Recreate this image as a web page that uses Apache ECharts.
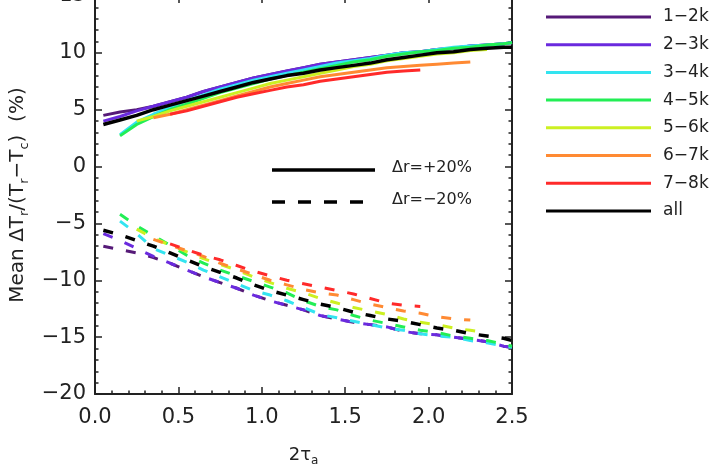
<!DOCTYPE html>
<html>
<head>
    <meta charset="utf-8">
    <title>Mean ΔTr/(Tr−Tc)</title>
    <script src="https://cdn.jsdelivr.net/npm/echarts@6/dist/echarts.min.js"></script>
    <style>
        html, body { margin: 0; padding: 0; background: #fff; }
        #chart1 { width: 709px; height: 474px; }
    </style>
</head>
<body>
<div id="chart1"></div>
<script type="text/javascript">
    // x grid (2 tau_a), shared by every curve; missing points are null
    var xs = [0.05, 0.15, 0.25, 0.35, 0.45, 0.55, 0.65, 0.75, 0.85, 0.95, 1.05, 1.15, 1.25,
              1.35, 1.45, 1.55, 1.65, 1.75, 1.85, 1.95, 2.05, 2.15, 2.25, 2.35, 2.45, 2.5];

    var names = ['1−2kG', '2−3kG', '3−4kG', '4−5kG', '5−6kG', '6−7kG', '7−8kG', 'all'];
    var colors = ['#561a78', '#6a2ade', '#33e4f0', '#22ee55', '#ccf022', '#ff8a33', '#ff2a2a', '#000000'];

    // dr = +20% (solid)
    var plus12 = [4.5, 4.8, 5.0, 5.3, 5.7, 6.1, 6.6, 7.0, 7.4, 7.8, 8.1, 8.4, 8.7, 9.0, 9.2, 9.4, 9.6, 9.8, 10.0, 10.1, 10.3, 10.4, 10.6, 10.7, 10.8, 10.9];
    var plus23 = [4.0, 4.4, 4.9, 5.3, 5.7, 6.1, 6.6, 7.0, 7.4, 7.8, 8.1, 8.4, 8.7, 9.0, 9.2, 9.4, 9.6, 9.8, 10.0, 10.1, 10.3, 10.4, 10.6, 10.7, 10.8, 10.9];
    var plus34 = [null, 2.8, 3.9, 4.6, 5.2, 5.8, 6.3, 6.8, 7.2, 7.6, 7.9, 8.2, 8.5, 8.8, 9.1, 9.3, 9.5, 9.8, 10.0, 10.1, 10.3, 10.5, 10.6, 10.7, 10.8, 10.9];
    var plus45 = [null, 2.7, 3.7, 4.4, 5.0, 5.5, 6.0, 6.5, 6.9, 7.3, 7.7, 8.0, 8.3, 8.6, 8.9, 9.2, 9.4, 9.7, 9.9, 10.1, 10.2, 10.4, 10.5, 10.7, 10.8, 10.9];
    var plus56 = [null, null, 4.0, 4.4, 4.9, 5.3, 5.7, 6.1, 6.5, 6.9, 7.3, 7.6, 7.9, 8.2, 8.5, 8.8, 9.0, 9.3, 9.5, 9.7, 9.9, 10.0, 10.2, 10.3];
    var plus67 = [null, null, null, 4.3, 4.6, 5.0, 5.4, 5.8, 6.2, 6.6, 7.0, 7.3, 7.6, 7.9, 8.1, 8.3, 8.5, 8.7, 8.8, 8.9, 9.0, 9.1, 9.2];
    var plus78 = [null, null, null, null, 4.6, 4.9, 5.3, 5.7, 6.1, 6.4, 6.7, 7.0, 7.2, 7.5, 7.7, 7.9, 8.1, 8.3, 8.4, 8.5];
    var plusAll = [3.7, 4.1, 4.5, 5.0, 5.4, 5.8, 6.2, 6.6, 7.0, 7.4, 7.7, 8.0, 8.2, 8.5, 8.7, 8.9, 9.1, 9.4, 9.6, 9.8, 10.0, 10.1, 10.3, 10.4, 10.5, 10.5];

    // dr = -20% (dashed)
    var minus12 = [-7.0, -7.3, -7.6, -8.0, -8.5, -9.1, -9.7, -10.2, -10.7, -11.3, -11.8, -12.2, -12.6, -13.1, -13.4, -13.7, -13.9, -14.1, -14.5, -14.7, -14.8, -15.0, -15.2, -15.4, -15.8, -15.9];
    var minus23 = [-5.9, -6.5, -7.2, -7.9, -8.5, -9.1, -9.7, -10.2, -10.7, -11.3, -11.8, -12.2, -12.6, -13.1, -13.4, -13.7, -13.9, -14.1, -14.5, -14.7, -14.8, -15.0, -15.2, -15.4, -15.8, -15.9];
    var minus34 = [null, -4.8, -5.9, -7.2, -7.8, -8.4, -9.1, -9.7, -10.3, -10.9, -11.3, -11.8, -12.4, -13.0, -13.3, -13.6, -13.9, -14.2, -14.4, -14.7, -14.9, -15.0, -15.3, -15.5, -15.8, -15.9];
    var minus45 = [null, -4.2, -5.2, -6.1, -6.9, -7.8, -8.5, -9.1, -9.6, -10.1, -10.6, -11.1, -11.8, -12.3, -12.6, -13.1, -13.5, -13.8, -14.1, -14.4, -14.6, -14.9, -15.1, -15.3, -15.6, -15.8];
    var minus56 = [null, null, -5.5, -6.3, -6.9, -7.5, -8.1, -8.6, -9.1, -9.7, -10.2, -10.7, -11.1, -11.6, -12.0, -12.4, -12.7, -13.0, -13.4, -13.7, -13.9, -14.2, -14.4, -14.6];
    var minus67 = [null, null, null, -6.4, -6.9, -7.4, -7.9, -8.5, -9.0, -9.5, -10.0, -10.4, -10.8, -11.1, -11.3, -11.7, -12.1, -12.4, -12.7, -12.9, -13.2, -13.4, -13.5];
    var minus78 = [null, null, null, null, -6.8, -7.3, -7.8, -8.2, -8.7, -9.2, -9.6, -10.0, -10.3, -10.6, -10.9, -11.2, -11.6, -12.0, -12.2, -12.3];
    var minusAll = [-5.6, -6.0, -6.5, -7.0, -7.6, -8.2, -8.8, -9.3, -9.8, -10.4, -10.9, -11.3, -11.7, -12.1, -12.4, -12.8, -13.1, -13.4, -13.6, -13.9, -14.2, -14.4, -14.7, -14.9, -15.1, -15.3];

    var plusSets = [plus12, plus23, plus34, plus45, plus56, plus67, plus78, plusAll];
    var minusSets = [minus12, minus23, minus34, minus45, minus56, minus67, minus78, minusAll];

    var font = 'DejaVu Sans';
    var ink = '#222';

    function pairs(arr) {
        var out = [];
        for (var i = 0; i < arr.length; i++) {
            if (arr[i] != null) out.push([xs[i], arr[i]]);
        }
        return out;
    }

    var series = [];
    for (var k = 0; k < names.length; k++) {
        var w = k == 7 ? 3.5 : 3;
        series.push({
            name: names[k], type: 'line', symbol: 'none', silent: true,
            data: pairs(plusSets[k]),
            lineStyle: {color: colors[k], width: w},
            itemStyle: {color: colors[k]}
        });
        series.push({
            name: names[k], type: 'line', symbol: 'none', silent: true,
            data: pairs(minusSets[k]),
            lineStyle: {color: colors[k], width: w, type: [10, 13]},
            itemStyle: {color: colors[k]}
        });
    }

    function richFor(size) {
        return {
            m: {fontFamily: font, fontSize: size, color: ink, lineHeight: size + 5, verticalAlign: 'middle'},
            s: {fontFamily: font, fontSize: Math.round(size * 0.65), color: ink, lineHeight: 10, verticalAlign: 'bottom'}
        };
    }

    var minus = function (v) { return String(v).replace('-', '−'); };

    // frame axes: same look on all four sides, ticks pointing in
    function frameAxis(extra) {
        var base = {
            type: 'value', splitLine: {show: false},
            axisLine: {onZero: false, lineStyle: {color: ink, width: 2}},
            axisTick: {inside: true, length: 7, lineStyle: {color: ink, width: 1.5}},
            minorTick: {show: true, splitNumber: 5, length: 3.5, lineStyle: {color: ink, width: 1.5}}
        };
        for (var key in extra) base[key] = extra[key];
        return base;
    }

    var myChart1 = echarts.init(document.getElementById('chart1'));
    myChart1.setOption({
        animation: false,
        backgroundColor: '#fff',
        grid: {left: 95, right: 197, top: -4, bottom: 80, outerBoundsMode: 'none', containLabel: false},
        legend: {
            data: names,
            orient: 'vertical',
            left: 541, top: 3,
            icon: 'rect',
            itemWidth: 105, itemHeight: 3,
            itemGap: 9.7,
            selectedMode: false,
            textStyle: {fontFamily: font, fontSize: 17, color: ink, lineHeight: 18, padding: [0, 0, 0, 7]}
        },
        xAxis: [frameAxis({
            min: 0, max: 2.5, interval: 0.5, position: 'bottom',
            name: '{m|2τ}{s|a}', nameLocation: 'middle', nameGap: 50,
            nameTextStyle: {rich: richFor(18)},
            axisLabel: {fontFamily: font, fontSize: 21, color: ink, margin: 13,
                formatter: function (v) { return v.toFixed(1); }}
        }), frameAxis({
            min: 0, max: 2.5, interval: 0.5, position: 'top',
            axisLabel: {show: false}
        })],
        yAxis: [frameAxis({
            min: -20, max: 15, interval: 5, position: 'left',
            name: '{m|Mean ΔT}{s|r}{m|/(T}{s|r}{m|−T}{s|c}{m|)  (%)}',
            nameLocation: 'middle', nameGap: 55, nameRotate: 90,
            nameTextStyle: {rich: richFor(20)},
            axisLabel: {fontFamily: font, fontSize: 21, color: ink, margin: 9, formatter: minus}
        }), frameAxis({
            min: -20, max: 15, interval: 5, position: 'right',
            axisLabel: {show: false}
        })],
        graphic: [
            {type: 'line', shape: {x1: 272, y1: 170, x2: 375, y2: 170}, style: {stroke: '#000', lineWidth: 3.5}},
            {type: 'text', left: 392, top: 160, style: {text: 'Δr=+20%', fontFamily: font, fontSize: 16, fill: ink}},
            {type: 'line', shape: {x1: 272, y1: 202, x2: 375, y2: 202}, style: {stroke: '#000', lineWidth: 3.5, lineDash: [13, 13]}},
            {type: 'text', left: 392, top: 192, style: {text: 'Δr=−20%', fontFamily: font, fontSize: 16, fill: ink}}
        ],
        series: series
    });
</script>
</body>
</html>
